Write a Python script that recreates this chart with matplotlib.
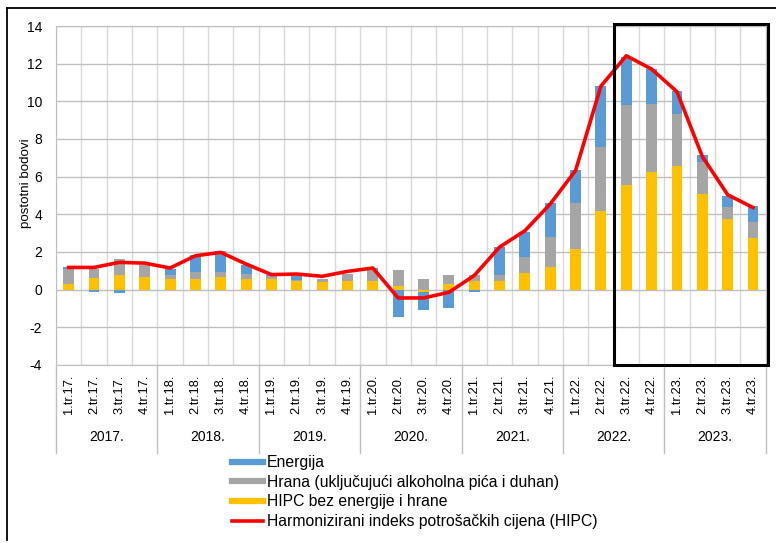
import matplotlib.pyplot as plt
import numpy as np
from matplotlib.lines import Line2D
from matplotlib.patches import Rectangle
from matplotlib.transforms import blended_transform_factory

plt.rcParams['font.family'] = ['Liberation Sans', 'DejaVu Sans']
plt.rcParams['axes.unicode_minus'] = False

# Quarter labels and year groups
quarters = ['1.tr.17.', '2.tr.17.', '3.tr.17.', '4.tr.17.',
            '1.tr.18.', '2.tr.18.', '3.tr.18.', '4.tr.18.',
            '1.tr.19.', '2.tr.19.', '3.tr.19.', '4.tr.19.',
            '1.tr.20.', '2.tr.20.', '3.tr.20.', '4.tr.20.',
            '1.tr.21.', '2.tr.21.', '3.tr.21.', '4.tr.21.',
            '1.tr.22.', '2.tr.22.', '3.tr.22.', '4.tr.22.',
            '1.tr.23.', '2.tr.23.', '3.tr.23.', '4.tr.23.']
years = ['2017.', '2018.', '2019.', '2020.', '2021.', '2022.', '2023.']

# Contributions (percentage points)
core = [0.30, 0.62, 0.80, 0.69, 0.55, 0.58, 0.65, 0.58, 0.55, 0.44, 0.39, 0.44, 0.48, 0.17,
        -0.15, 0.32, 0.48, 0.44, 0.88, 1.22, 2.14, 4.20, 5.57, 6.25, 6.59, 5.10, 3.73, 2.72]
food = [0.80, 0.48, 0.83, 0.64, 0.23, 0.37, 0.30, 0.27, 0.17, 0.05, 0.18, 0.39, 0.54, 0.89,
        0.57, 0.48, 0.32, 0.32, 0.85, 1.59, 2.47, 3.38, 4.24, 3.61, 2.76, 1.68, 0.65, 0.85]
energy = [0.08, -0.14, -0.20, 0.00, 0.32, 0.91, 1.12, 0.44, 0.08, 0.22, 0.00, 0.00, 0.13, -1.47,
          -0.95, -0.97, -0.15, 1.50, 1.33, 1.80, 1.75, 3.23, 2.56, 1.84, 1.20, 0.36, 0.60, 0.85]
hicp = [1.18, 1.18, 1.45, 1.41, 1.15, 1.80, 1.98, 1.36, 0.80, 0.83, 0.71, 0.97, 1.15, -0.44,
        -0.44, -0.14, 0.75, 2.26, 3.13, 4.55, 6.33, 10.81, 12.42, 11.71, 10.51, 7.07, 5.04, 4.36]

series = [(core, '#FFC000'), (food, '#A5A5A5'), (energy, '#5B9BD5')]

W, H = 776, 543
fig = plt.figure(figsize=(W / 100, H / 100), dpi=100)
ax_l, ax_r, ax_t, ax_b = 56, 765.7, 26, 365
ax = fig.add_axes([ax_l / W, 1 - ax_b / H, (ax_r - ax_l) / W, (ax_b - ax_t) / H])

# Stacked bars: positives and negatives stack separately
x = np.arange(len(quarters))
pos_base = np.zeros(len(x))
neg_base = np.zeros(len(x))
for vals, color in series:
    v = np.array(vals)
    bottom = np.where(v >= 0, pos_base, neg_base)
    ax.bar(x, v, 0.43, bottom=bottom, color=color, zorder=2)
    pos_base += np.where(v >= 0, v, 0)
    neg_base += np.where(v < 0, v, 0)

ax.plot(x, hicp, color='#FF0000', lw=2.6, zorder=3, solid_joinstyle='round')

# Axes and grid
ax.set_xlim(-0.5, len(x) - 0.5)
ax.set_ylim(-4, 14)
ax.set_yticks(np.arange(-4, 15, 2))
ax.set_xticks(x)
ax.set_xticklabels(quarters, rotation=90, fontsize=9.3)
ax.set_xticks(np.arange(-0.5, len(x), 1), minor=True)
ax.tick_params(axis='both', which='both', length=0)
ax.tick_params(axis='y', labelsize=10, pad=10)
ax.tick_params(axis='x', pad=7)
ax.grid(axis='y', color='#BFBFBF', lw=1, zorder=0)
ax.grid(axis='x', which='minor', color='#D9D9D9', lw=1, zorder=0)
for s in ax.spines.values():
    s.set_color('#BFBFBF')
ax.set_ylabel('postotni bodovi', fontsize=9.6)
ax.yaxis.set_label_coords(-(ax_l - 32) / (ax_r - ax_l), (ax_b - 183) / (ax_b - ax_t))

# Year group labels and separators below the axis
trans = blended_transform_factory(ax.transData, fig.transFigure)
for i, yr in enumerate(years):
    ax.text(4 * i + 1.5, 1 - 437 / H, yr, transform=trans, ha='center', va='center', fontsize=10)
for k in range(len(years) + 1):
    ax.add_line(Line2D([4 * k - 0.5] * 2, [1 - ax_b / H, 1 - 453 / H], transform=trans,
                       color='#BFBFBF', lw=1, clip_on=False))

# Highlight box around 3.tr.22. - 4.tr.23.
ax.add_patch(Rectangle((21.53, -4), 6.07, 18.12, fill=False, edgecolor='black', lw=2.2,
                       zorder=5, clip_on=False))

# Legend
handles = [Line2D([], [], color='#5B9BD5', lw=4.5),
           Line2D([], [], color='#A5A5A5', lw=4.5),
           Line2D([], [], color='#FFC000', lw=4.5),
           Line2D([], [], color='#FF0000', lw=2.6)]
labels = ['Energija', 'Hrana (uključujući alkoholna pića i duhan)',
          'HIPC bez energije i hrane', 'Harmonizirani indeks potrošačkih cijena (HIPC)']
fig.legend(handles, labels, loc='upper left', bbox_to_anchor=(232 / W, 1 - 455 / H),
           frameon=False, fontsize=11.3, handlelength=1.95, handletextpad=0.25,
           labelspacing=0.3, borderpad=0, borderaxespad=0)

# Outer frame lines (top and left)
fig.add_artist(Line2D([7 / W, 1], [1 - 8 / H] * 2, color='black', lw=1.3))
fig.add_artist(Line2D([7 / W] * 2, [1 - 8 / H, 1 - 540 / H], color='black', lw=1.3))

fig.savefig('out.png', dpi=100)
